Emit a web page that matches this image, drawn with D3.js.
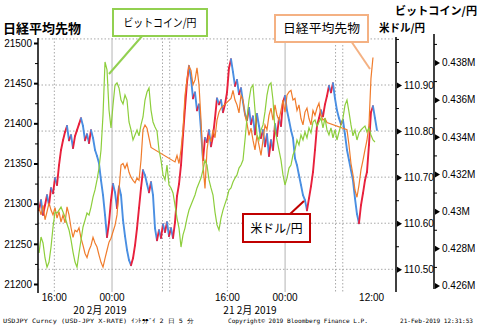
<!DOCTYPE html>
<html><head><meta charset="utf-8">
<script src="https://cdn.jsdelivr.net/npm/d3@7"></script>
<style>
html,body{margin:0;padding:0;background:#fff;}
svg{display:block;}
text{font-family:"Liberation Sans",Arial,sans-serif;fill:#000;}
.jp{font-family:"Noto Sans CJK JP",sans-serif;}
.mono{font-family:"DejaVu Sans Mono","Liberation Mono",monospace;}
</style></head><body>
<svg id="c" width="478" height="327"></svg>
<script>
// ---------- data ----------
const startTime = new Date(2019,1,19,13,52,30);
const stepMinutes = 16.64;

const usdjpy = [
110.628,110.650,110.618,110.639,110.661,110.639,110.676,110.665,110.698,110.683,
110.726,110.759,110.780,110.798,110.811,110.780,110.791,110.763,110.789,110.802,
110.815,110.828,110.811,110.780,110.793,110.774,110.802,110.785,110.759,110.746,
110.730,110.693,110.661,110.618,110.570,110.602,110.650,110.685,110.667,110.633,
110.680,110.661,110.607,110.572,110.542,110.520,110.509,110.524,110.552,110.589,
110.633,110.676,110.715,110.704,110.685,110.667,110.689,110.661,110.589,110.563,
110.585,110.568,110.598,110.581,110.602,110.572,110.589,110.568,110.602,110.659,
110.685,110.726,110.791,110.850,110.906,110.941,110.915,110.871,110.884,110.845,
110.858,110.802,110.737,110.785,110.776,110.802,110.767,110.789,110.828,110.871,
110.858,110.867,110.841,110.858,110.884,110.937,110.956,110.928,110.898,110.911,
110.880,110.893,110.863,110.837,110.824,110.850,110.815,110.832,110.793,110.837,
110.811,110.785,110.802,110.767,110.793,110.746,110.780,110.759,110.815,110.789,
110.828,110.811,110.863,110.876,110.845,110.824,110.802,110.785,110.741,110.726,
110.704,110.683,110.661,110.650,110.628,110.654,110.680,110.711,110.759,110.811,
110.828,110.845,110.832,110.858,110.876,110.898,110.884,110.904,110.871,110.845,
110.828,110.815,110.824,110.793,110.759,110.737,110.715,110.693,110.654,110.620,
110.600,110.639,110.665,110.693,110.711,110.770,110.841,110.854,110.828,110.802];

const nikkei = [
21295,21286,21298,21280,21290,21301,21292,21286,21295,21282,
21290,21277,21286,21276,21296,21286,21270,21258,21267,21265,
21270,21257,21248,21238,21233,21242,21248,21258,21251,21246,
21236,21227,21221,21232,21242,21252,21257,21265,21273,21286,
21317,21348,21350,21344,21350,21339,21333,21329,21326,21332,
21329,21354,21392,21398,21394,21382,21370,
null,null,null,null,null,null,null,null,null,null,null,
21352,21360,21350,21367,21392,21435,21454,21471,21466,21448,
21454,21469,21448,21404,21348,21319,21367,21385,21377,21392,
21382,21404,21414,21419,
null,null,null,null,
21431,21441,21429,21423,21413,21435,21429,21410,21400,21385,
21394,21379,21367,21385,21373,21360,21379,21398,21392,21410,
21419,21404,21423,21410,21404,21416,21429,21414,21435,21439,
21441,21429,21431,21416,21423,21406,21398,21414,21419,21406,
21398,21416,21410,21419,21425,21410,21404,21406,21401,
null,null,null,null,null,null,null,null,null,
21392,21373,21350,21336,21317,21308,21323,21342,21354,21367,
21379,21398,21456,21482];

// Bitcoin / JPY in thousands of yen
const btcK = [
427.75,428.61,428.29,427.48,426.99,427.26,428.07,429.15,429.95,429.90,
430.06,430.22,429.95,429.69,429.31,428.99,428.45,427.80,427.26,426.99,
427.75,428.45,429.15,429.52,429.90,429.79,430.22,430.76,431.14,431.68,
432.32,433.29,435.18,438.03,437.60,435.44,434.48,435.71,436.79,436.90,
436.63,435.98,435.77,436.25,435.98,434.80,434.37,433.83,434.10,434.37,
434.05,434.64,435.07,435.98,436.41,436.63,435.44,434.80,434.53,434.31,
433.29,432.75,431.95,431.68,432.48,431.41,431.25,430.98,430.33,429.63,
429.09,428.07,428.72,429.09,429.63,430.06,430.33,430.60,430.87,431.25,
431.52,431.78,432.22,432.75,432.48,431.68,431.25,430.87,429.95,429.26,
428.99,429.63,430.06,430.39,430.71,431.14,431.25,431.57,431.78,431.95,
432.32,432.48,432.75,433.83,435.01,435.98,436.63,436.79,435.44,434.10,
433.83,434.37,434.64,435.34,436.25,436.79,436.90,435.98,434.37,433.83,
433.29,432.75,431.95,431.41,431.78,432.32,432.48,433.02,433.29,433.83,
433.56,434.10,433.83,434.26,433.94,434.48,434.21,434.80,434.91,434.58,
434.80,435.01,434.48,435.01,434.37,434.10,434.48,433.94,434.37,433.83,
434.26,434.64,435.01,435.71,435.98,435.34,434.64,434.05,434.37,433.83,
434.21,434.37,434.48,434.58,434.26,434.48,434.10,433.83,433.72];

const nikkeiTicks = [21200,21250,21300,21350,21400,21450,21500];
const nikkeiMinor = [21225,21275,21325,21375,21425,21475];
const usdTicks = [110.5,110.6,110.7,110.8,110.9];
const usdMinor = [110.55,110.65,110.75,110.85,110.95,111.0];
const usdGrid = [110.5,110.6,110.7,110.8,110.9,111.0];
const btcTicks = [426,428,430,432,434,436,438];
const btcMinor = [427,429,431,433,435,437,439];
const timeTicks = [new Date(2019,1,19,16,0), new Date(2019,1,20,0,0), new Date(2019,1,20,16,0), new Date(2019,1,21,0,0), new Date(2019,1,21,12,0)];
const dayLines = [new Date(2019,1,20,0,0), new Date(2019,1,21,0,0)];
const dottedLines = [new Date(2019,1,19,16,0), new Date(2019,1,20,7,0), new Date(2019,1,20,8,0), new Date(2019,1,20,16,0), new Date(2019,1,21,7,0), new Date(2019,1,21,8,0)];
const dateLabels = [{text:"20 2月 2019", x:100}, {text:"21 2月 2019", x:250}];

// ---------- chart ----------
const svg = d3.select("#c");
const L = 38, R = 396, T = 38, B = 292, R2 = 434;
const tAt = i => new Date(startTime.getTime() + i*stepMinutes*60000);

const x = d3.scaleTime().domain([new Date(2019,1,19,13,44), new Date(2019,1,21,15,23)]).range([L, R]);
const yN = d3.scaleLinear().domain([21200,21500]).range([284,43]);
const yU = d3.scaleLinear().domain([110.5,110.9]).range([269.3,85]);
const yB = d3.scaleLinear().domain([426,438]).range([285.5,62.5]);

// grid
const g = svg.append("g");
g.selectAll(".hg").data(usdGrid).join("line")
  .attr("x1",L).attr("x2",R).attr("y1",d=>yU(d)).attr("y2",d=>yU(d))
  .attr("stroke","#a8a8a8").attr("stroke-width",1).attr("stroke-dasharray","1.5,2");
g.selectAll(".vg").data(dottedLines).join("line")
  .attr("x1",d=>x(d)).attr("x2",d=>x(d)).attr("y1",T).attr("y2",B)
  .attr("stroke","#a8a8a8").attr("stroke-width",1).attr("stroke-dasharray","1.5,2");
g.selectAll(".dl").data(dayLines).join("line")
  .attr("x1",d=>x(d)).attr("x2",d=>x(d)).attr("y1",T).attr("y2",B)
  .attr("stroke","#b4b4b4").attr("stroke-width",1);

// USD/JPY: segments coloured by direction
const usdPts = usdjpy.map((v,i)=>[x(tAt(i)), yU(v), v]);
const segs = d3.pairs(usdPts);
svg.append("g").selectAll("line").data(segs).join("line")
  .attr("x1",d=>d[0][0]).attr("y1",d=>d[0][1]).attr("x2",d=>d[1][0]).attr("y2",d=>d[1][1])
  .attr("stroke",d=> d[1][2] >= d[0][2] ? "#e8203c" : "#4a8fe2")
  .attr("stroke-width",1.9).attr("stroke-linecap","round");

// Nikkei
const nkData = nikkei.map((v,i)=>({t:tAt(i), v})).filter(d=>d.v!==null);
svg.append("path").datum(nkData)
  .attr("fill","none").attr("stroke","#f07c2c").attr("stroke-width",1.2)
  .attr("d", d3.line().x(d=>x(d.t)).y(d=>yN(d.v)));

// Bitcoin
const btData = btcK.map((v,i)=>({t:tAt(i), v}));
svg.append("path").datum(btData)
  .attr("fill","none").attr("stroke","#8dce3c").attr("stroke-width",1.2)
  .attr("d", d3.line().x(d=>x(d.t)).y(d=>yB(d.v)));

// left axis
const la = svg.append("g").attr("transform",`translate(${L},0)`)
  .call(d3.axisLeft(yN).tickValues(nikkeiTicks).tickSize(4).tickSizeOuter(0).tickPadding(2).tickFormat(d3.format("d")));
la.select(".domain").remove();
la.selectAll(".tick line").attr("stroke","#000").attr("stroke-width",2);
la.selectAll("text").attr("font-size",10).attr("font-family","Liberation Sans, Arial, sans-serif").attr("fill","#000");
svg.append("g").attr("transform",`translate(${L},0)`)
  .call(d3.axisLeft(yN).tickValues(nikkeiMinor).tickSize(3).tickFormat(""))
  .call(s=>s.select(".domain").remove());
svg.append("line").attr("x1",L).attr("x2",L).attr("y1",T).attr("y2",B+1).attr("stroke","#000").attr("stroke-width",1.5);

// right axis helpers
function rightAxis(ax, scale, major, minor, fmt, top, bottom){
  svg.append("line").attr("x1",ax).attr("x2",ax).attr("y1",top).attr("y2",bottom).attr("stroke","#000").attr("stroke-width",1.5);
  svg.append("g").attr("transform",`translate(${ax},0)`)
    .call(d3.axisRight(scale).tickValues(minor).tickSize(3).tickFormat(""))
    .call(s=>s.select(".domain").remove());
  const a = svg.append("g").attr("transform",`translate(${ax},0)`)
    .call(d3.axisRight(scale).tickValues(major).tickSize(0).tickPadding(8).tickFormat(fmt));
  a.select(".domain").remove();
  a.selectAll("text").attr("font-size",10).attr("font-family","Liberation Sans, Arial, sans-serif").attr("fill","#000");
  a.selectAll(".tick").append("path").attr("d","M1,-3L6,0L1,3Z").attr("fill","#000");
}
rightAxis(R, yU, usdTicks, usdMinor, d3.format(".2f"), T-1, B);
rightAxis(R2, yB, btcTicks, btcMinor, d=>(d/1000)+"M", 34, 289);

// x labels
svg.append("g").selectAll("text").data(timeTicks).join("text")
  .attr("x",d=>x(d)).attr("y",301).attr("text-anchor","middle").attr("font-size",10)
  .text(d3.timeFormat("%H:%M"));
svg.append("g").selectAll("text").data(dateLabels).join("text")
  .attr("class","jp").attr("x",d=>d.x).attr("y",314).attr("text-anchor","middle").attr("font-size",10)
  .text(d=>d.text);

// titles
svg.append("text").attr("class","jp").attr("x",3).attr("y",33).attr("font-size",13).attr("font-weight",700).text("日経平均先物");
svg.append("text").attr("class","jp").attr("x",395).attr("y",15).attr("font-size",11).attr("font-weight",700).attr("textLength",82).attr("lengthAdjust","spacingAndGlyphs").text("ビットコイン/円");
svg.append("text").attr("class","jp").attr("x",379).attr("y",32).attr("font-size",11).attr("font-weight",700).attr("textLength",46).attr("lengthAdjust","spacingAndGlyphs").text("米ドル/円");

// callouts
function callout(x0,y0,w,h,color,label,fs,tl,px1,py1,px2,py2){
  svg.append("line").attr("x1",px1).attr("y1",py1).attr("x2",px2).attr("y2",py2).attr("stroke",color).attr("stroke-width",2);
  svg.append("rect").attr("x",x0).attr("y",y0).attr("width",w).attr("height",h).attr("fill","#fff").attr("stroke",color).attr("stroke-width",2);
  svg.append("text").attr("class","jp").attr("x",x0+w/2).attr("y",y0+h/2+fs*0.38).attr("text-anchor","middle")
    .attr("font-size",fs).attr("textLength",tl).attr("lengthAdjust","spacingAndGlyphs").attr("fill","#111").text(label);
}
callout(113,9,94,27,"#92d050","ビットコイン/円",11.5,73, 143,35, 109,74);
callout(275,15,93,27,"#f4b183","日経平均先物",12.5,77, 351,41, 370,69);
callout(243,214,67,28,"#c00000","米ドル/円",12,52, 289,215, 304,201);

// footer
svg.append("text").attr("class","mono").attr("x",3).attr("y",323).attr("font-size",6).attr("textLength",191).attr("lengthAdjust","spacingAndGlyphs").text("USDJPY Curncy (USD-JPY X-RATE) ｲﾝﾄﾗﾃﾞｲ 2 日 5 分");
svg.append("text").attr("class","mono").attr("x",228).attr("y",323).attr("font-size",6).attr("textLength",140).attr("lengthAdjust","spacingAndGlyphs").text("Copyright© 2019 Bloomberg Finance L.P.");
svg.append("text").attr("class","mono").attr("x",400).attr("y",323).attr("font-size",6).attr("textLength",73).attr("lengthAdjust","spacingAndGlyphs").text("21-Feb-2019 12:31:53");
</script>
</body></html>
